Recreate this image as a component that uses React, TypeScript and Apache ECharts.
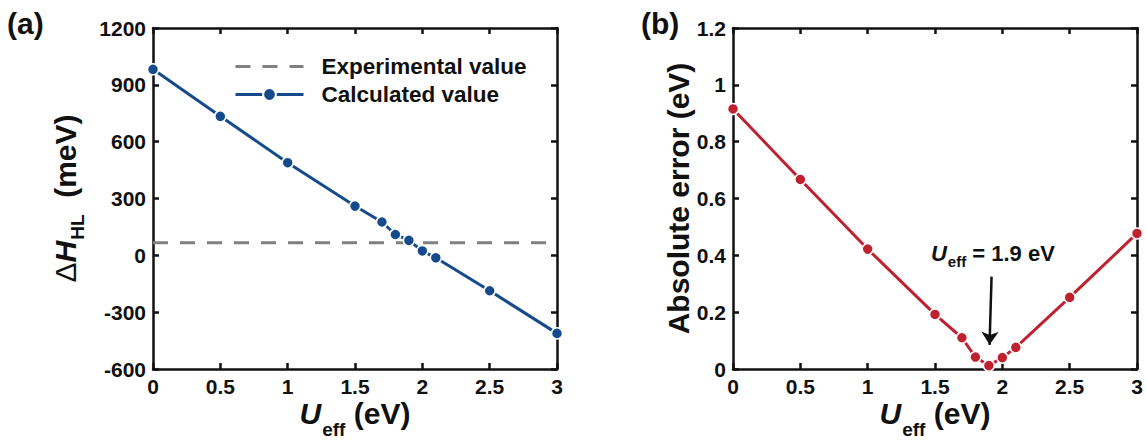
import React, { useEffect, useRef } from "react";
import * as echarts from "echarts";

// ---- data ----
const uEff = [0, 0.5, 1, 1.5, 1.7, 1.8, 1.9, 2.0, 2.1, 2.5, 3];
const calcDH = [982, 734, 489, 260, 176, 110, 79, 23, -13, -187, -412];
const expRangeX = [0, 3];
const expDH = 67;
const absErr = [0.915, 0.667, 0.422, 0.192, 0.11, 0.042, 0.012, 0.04, 0.076, 0.252, 0.477];
const arrowFrom = [1.92, 0.325];
const arrowTo = [1.905, 0.085];
const annotAt = [1.93, 0.405];

const FONT = "'Liberation Sans', Arial, Helvetica, sans-serif";
const BLUE = "#154b8c";
const RED = "#c0212f";
const GRAY = "#808080";
const INK = "#111";

function xAxisPair(grid: number, withName: boolean) {
  const common = {
    type: "value",
    gridIndex: grid,
    min: 0,
    max: 3,
    interval: 0.5,
    splitLine: { show: false },
    axisLine: { show: true, onZero: false, lineStyle: { color: INK, width: 2.5 } },
    axisTick: { show: true, inside: true, length: 6, lineStyle: { color: INK, width: 2.5 } },
  };
  return [
    {
      ...common,
      position: "bottom",
      axisLabel: { color: INK, fontFamily: FONT, fontWeight: "bold", fontSize: 21, lineHeight: 21, margin: 7, formatter: (v: number) => String(v) },
      name: withName ? "{u|U}{s|eff}{n| (eV)}" : "",
      nameLocation: "middle",
      nameGap: 27,
      nameMoveOverlap: false,
      nameTextStyle: {
        color: INK,
        fontFamily: FONT,
        fontWeight: "bold",
        fontSize: 30,
        rich: {
          u: { fontFamily: FONT, fontWeight: "bold", fontStyle: "italic", fontSize: 30, lineHeight: 34, color: INK },
          s: { fontFamily: FONT, fontWeight: "bold", fontSize: 19, lineHeight: 19, padding: [32, 0, 0, 1], color: INK },
          n: { fontFamily: FONT, fontWeight: "bold", fontSize: 30, lineHeight: 34, color: INK },
        },
      },
    },
    {
      ...common,
      position: "top",
      axisLabel: { show: false },
    },
  ];
}

function yAxisPair(grid: number, min: number, max: number, interval: number, name: string, nameGap: number, rich: any) {
  const common = {
    type: "value",
    gridIndex: grid,
    min,
    max,
    interval,
    splitLine: { show: false },
    axisLine: { show: true, onZero: false, lineStyle: { color: INK, width: 2.5 } },
    axisTick: { show: true, inside: true, length: 6, lineStyle: { color: INK, width: 2.5 } },
  };
  return [
    {
      ...common,
      position: "left",
      axisLabel: { color: INK, fontFamily: FONT, fontWeight: "bold", fontSize: 21, margin: 7, formatter: (v: number) => String(v) },
      name,
      nameLocation: "middle",
      nameGap,
      nameMoveOverlap: false,
      nameTextStyle: {
        color: INK,
        fontFamily: FONT,
        fontWeight: "bold",
        fontSize: 30,
        lineHeight: 34,
        rich,
      },
    },
    {
      ...common,
      position: "right",
      axisLabel: { show: false },
    },
  ];
}

export default function App() {
  const ref = useRef<HTMLDivElement>(null);

  useEffect(() => {
    document.body.style.margin = "0";
    if (!ref.current) return;
    const chart = echarts.init(ref.current, null, { renderer: "svg" });

    const leftRich = {
      d: { fontFamily: FONT, fontWeight: "normal", fontSize: 30, lineHeight: 34, color: INK },
      h: { fontFamily: FONT, fontWeight: "bold", fontStyle: "italic", fontSize: 30, lineHeight: 34, color: INK },
      s: { fontFamily: FONT, fontWeight: "bold", fontSize: 19, lineHeight: 19, padding: [25, 0, 0, 1], color: INK },
      n: { fontFamily: FONT, fontWeight: "bold", fontSize: 30, lineHeight: 34, color: INK },
    };

    const option: any = {
      animation: false,
      backgroundColor: "#fff",
      grid: [
        { left: 153, right: 589, top: 28, bottom: 74, containLabel: false, outerBoundsMode: "none" },
        { left: 733, right: 9, top: 28, bottom: 74, containLabel: false, outerBoundsMode: "none" },
      ],
      xAxis: [...xAxisPair(0, true), ...xAxisPair(1, true)],
      yAxis: [
        ...yAxisPair(0, -600, 1200, 300, "{d|Δ}{h|H}{s|HL}{n|  (meV)}", 71, leftRich),
        ...yAxisPair(1, 0, 1.2, 0.2, "Absolute error (eV)", 38, undefined),
      ],
      legend: {
        orient: "vertical",
        left: 229,
        top: 50,
        itemWidth: 68,
        itemHeight: 16,
        itemGap: 5,
        selectedMode: false,
        lineStyle: { width: 3 },
        textStyle: {
          color: INK,
          fontFamily: FONT,
          fontWeight: "bold",
          fontSize: 22.5,
          lineHeight: 22,
          padding: [0, 0, 0, 13],
        },
        data: [
          { name: "Experimental value", itemStyle: { opacity: 0 } },
          { name: "Calculated value" },
        ],
      },
      graphic: [
        {
          type: "text",
          left: 7,
          top: 8,
          style: { text: "(a)", fill: INK, font: `bold 30px ${FONT}` },
        },
        {
          type: "text",
          left: 641,
          top: 8,
          style: { text: "(b)", fill: INK, font: `bold 30px ${FONT}` },
        },
      ],
      series: [
        {
          name: "Experimental value",
          type: "line",
          xAxisIndex: 0,
          yAxisIndex: 0,
          data: expRangeX.map((x) => [x, expDH]),
          symbol: "none",
          clip: false,
          lineStyle: { color: GRAY, width: 3, type: [15, 12] },
          itemStyle: { color: GRAY },
          z: 2,
        },
        {
          name: "Calculated value",
          type: "line",
          xAxisIndex: 0,
          yAxisIndex: 0,
          data: uEff.map((x, i) => [x, calcDH[i]]),
          symbol: "circle",
          symbolSize: 11,
          showAllSymbol: true,
          clip: false,
          lineStyle: { color: BLUE, width: 3 },
          itemStyle: { color: BLUE, borderColor: "#fff", borderWidth: 1.5 },
          z: 3,
        },
        {
          name: "Absolute error",
          type: "line",
          xAxisIndex: 2,
          yAxisIndex: 2,
          data: uEff.map((x, i) => [x, absErr[i]]),
          symbol: "circle",
          symbolSize: 11,
          showAllSymbol: true,
          clip: false,
          lineStyle: { color: RED, width: 3 },
          itemStyle: { color: RED, borderColor: "#fff", borderWidth: 1.5 },
          z: 3,
          markLine: {
            silent: true,
            symbol: ["none", "arrow"],
            symbolSize: 13,
            label: { show: false },
            lineStyle: { color: INK, width: 2.5, type: "solid" },
            data: [[{ coord: arrowFrom }, { coord: arrowTo }]],
          },
          markPoint: {
            silent: true,
            symbol: "circle",
            symbolSize: 1,
            itemStyle: { color: "rgba(0,0,0,0)" },
            label: {
              show: true,
              position: "inside",
              formatter: "{u|U}{s|eff}{n| = 1.9 eV}",
              rich: {
                u: { fontFamily: FONT, fontWeight: "bold", fontStyle: "italic", fontSize: 22, lineHeight: 26, color: INK },
                s: { fontFamily: FONT, fontWeight: "bold", fontSize: 15, lineHeight: 15, padding: [16, 0, 0, 1], color: INK },
                n: { fontFamily: FONT, fontWeight: "bold", fontSize: 22, lineHeight: 26, color: INK },
              },
            },
            data: [{ coord: annotAt }],
          },
        },
      ],
    };

    chart.setOption(option);
    return () => chart.dispose();
  }, []);

  return <div ref={ref} style={{ width: 1146, height: 443 }} />;
}
